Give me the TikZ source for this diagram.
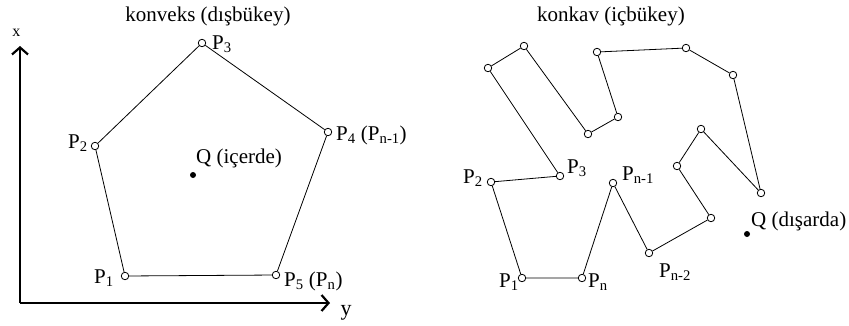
\documentclass[tikz,border=0pt]{standalone}
\usepackage{fontspec}
\setmainfont{Liberation Serif}
\usetikzlibrary{arrows.meta}
\newcommand{\psb}[1]{\textsubscript{#1}}
\begin{document}
\begin{tikzpicture}[x=1pt,y=-1pt,font=\fontsize{21}{24}\selectfont,
  vtx/.style={circle,draw,fill=white,inner sep=0pt,minimum size=7.5pt,line width=0.8pt},
  qdot/.style={circle,fill=black,inner sep=0pt,minimum size=6pt},
  edge/.style={line width=0.8pt},
  lbl/.style={anchor=base west,inner sep=0pt},
  ttl/.style={anchor=base,inner sep=0pt},
  axis/.style={line width=2.2pt,-{Straight Barb[length=7pt,width=16pt]}}]
\useasboundingbox (0,0) rectangle (849,325);
% axes
\coordinate (O) at (20,303);
\coordinate (xe) at (20,46);
\coordinate (ye) at (330,303);
\draw[axis] (O) -- (xe);
\draw[axis] (O) -- (ye);
\node[ttl,font=\fontsize{16}{18}\selectfont] (xl) at (16.5,36) {x};
\node[ttl,font=\fontsize{22}{24}\selectfont] (yl) at (346,315) {y};
% titles
\node[ttl] (t1) at (208,21) {konveks (dışbükey)};
\node[ttl] (t2) at (611,21) {konkav (içbükey)};
% convex polygon
\node[vtx] (c1) at (125,276) {};
\node[vtx] (c2) at (95,146) {};
\node[vtx] (c3) at (202,43) {};
\node[vtx] (c4) at (328,132) {};
\node[vtx] (c5) at (276,275) {};
\draw[edge] (c1) -- (c2) -- (c3) -- (c4) -- (c5) -- (c1);
\node[qdot] (q1) at (193,175) {};
\node[lbl] (lc1) at (94,283) {P\psb{1}};
\node[lbl] (lc2) at (68,148) {P\psb{2}};
\node[lbl] (lc3) at (212,49) {P\psb{3}};
\node[lbl] (lc4) at (336,140) {P\psb{4} (P\psb{n-1})};
\node[lbl] (lc5) at (284,286) {P\psb{5} (P\psb{n})};
\node[lbl] (lq1) at (196,163) {Q (içerde)};
% concave polygon
\node[vtx] (a1) at (522,278) {};
\node[vtx] (a2) at (582,278) {};
\node[vtx] (a3) at (613,183) {};
\node[vtx] (a4) at (649,253) {};
\node[vtx] (a5) at (711,218) {};
\node[vtx] (a6) at (677,166) {};
\node[vtx] (a7) at (701,129) {};
\node[vtx] (a8) at (761,193) {};
\node[vtx] (a9) at (733,75) {};
\node[vtx] (a10) at (686,48) {};
\node[vtx] (a11) at (597,52) {};
\node[vtx] (a12) at (618,117) {};
\node[vtx] (a13) at (588,134) {};
\node[vtx] (a14) at (524,46) {};
\node[vtx] (a15) at (488,68) {};
\node[vtx] (a16) at (560,176) {};
\node[vtx] (a17) at (491,182) {};
\draw[edge] (a1) -- (a2) -- (a3) -- (a4) -- (a5) -- (a6) -- (a7) -- (a8) -- (a9)
  -- (a10) -- (a11) -- (a12) -- (a13) -- (a14) -- (a15) -- (a16) -- (a17) -- (a1);
\node[qdot] (q2) at (747,234) {};
\node[lbl] (la1) at (499,287) {P\psb{1}};
\node[lbl] (la2) at (588,287) {P\psb{n}};
\node[lbl] (la3) at (622,180) {P\psb{n-1}};
\node[lbl] (la4) at (659,277) {P\psb{n-2}};
\node[lbl] (la16) at (567,173) {P\psb{3}};
\node[lbl] (la17) at (463,183) {P\psb{2}};
\node[lbl] (lq2) at (751,226) {Q (dışarda)};
\end{tikzpicture}
\end{document}
